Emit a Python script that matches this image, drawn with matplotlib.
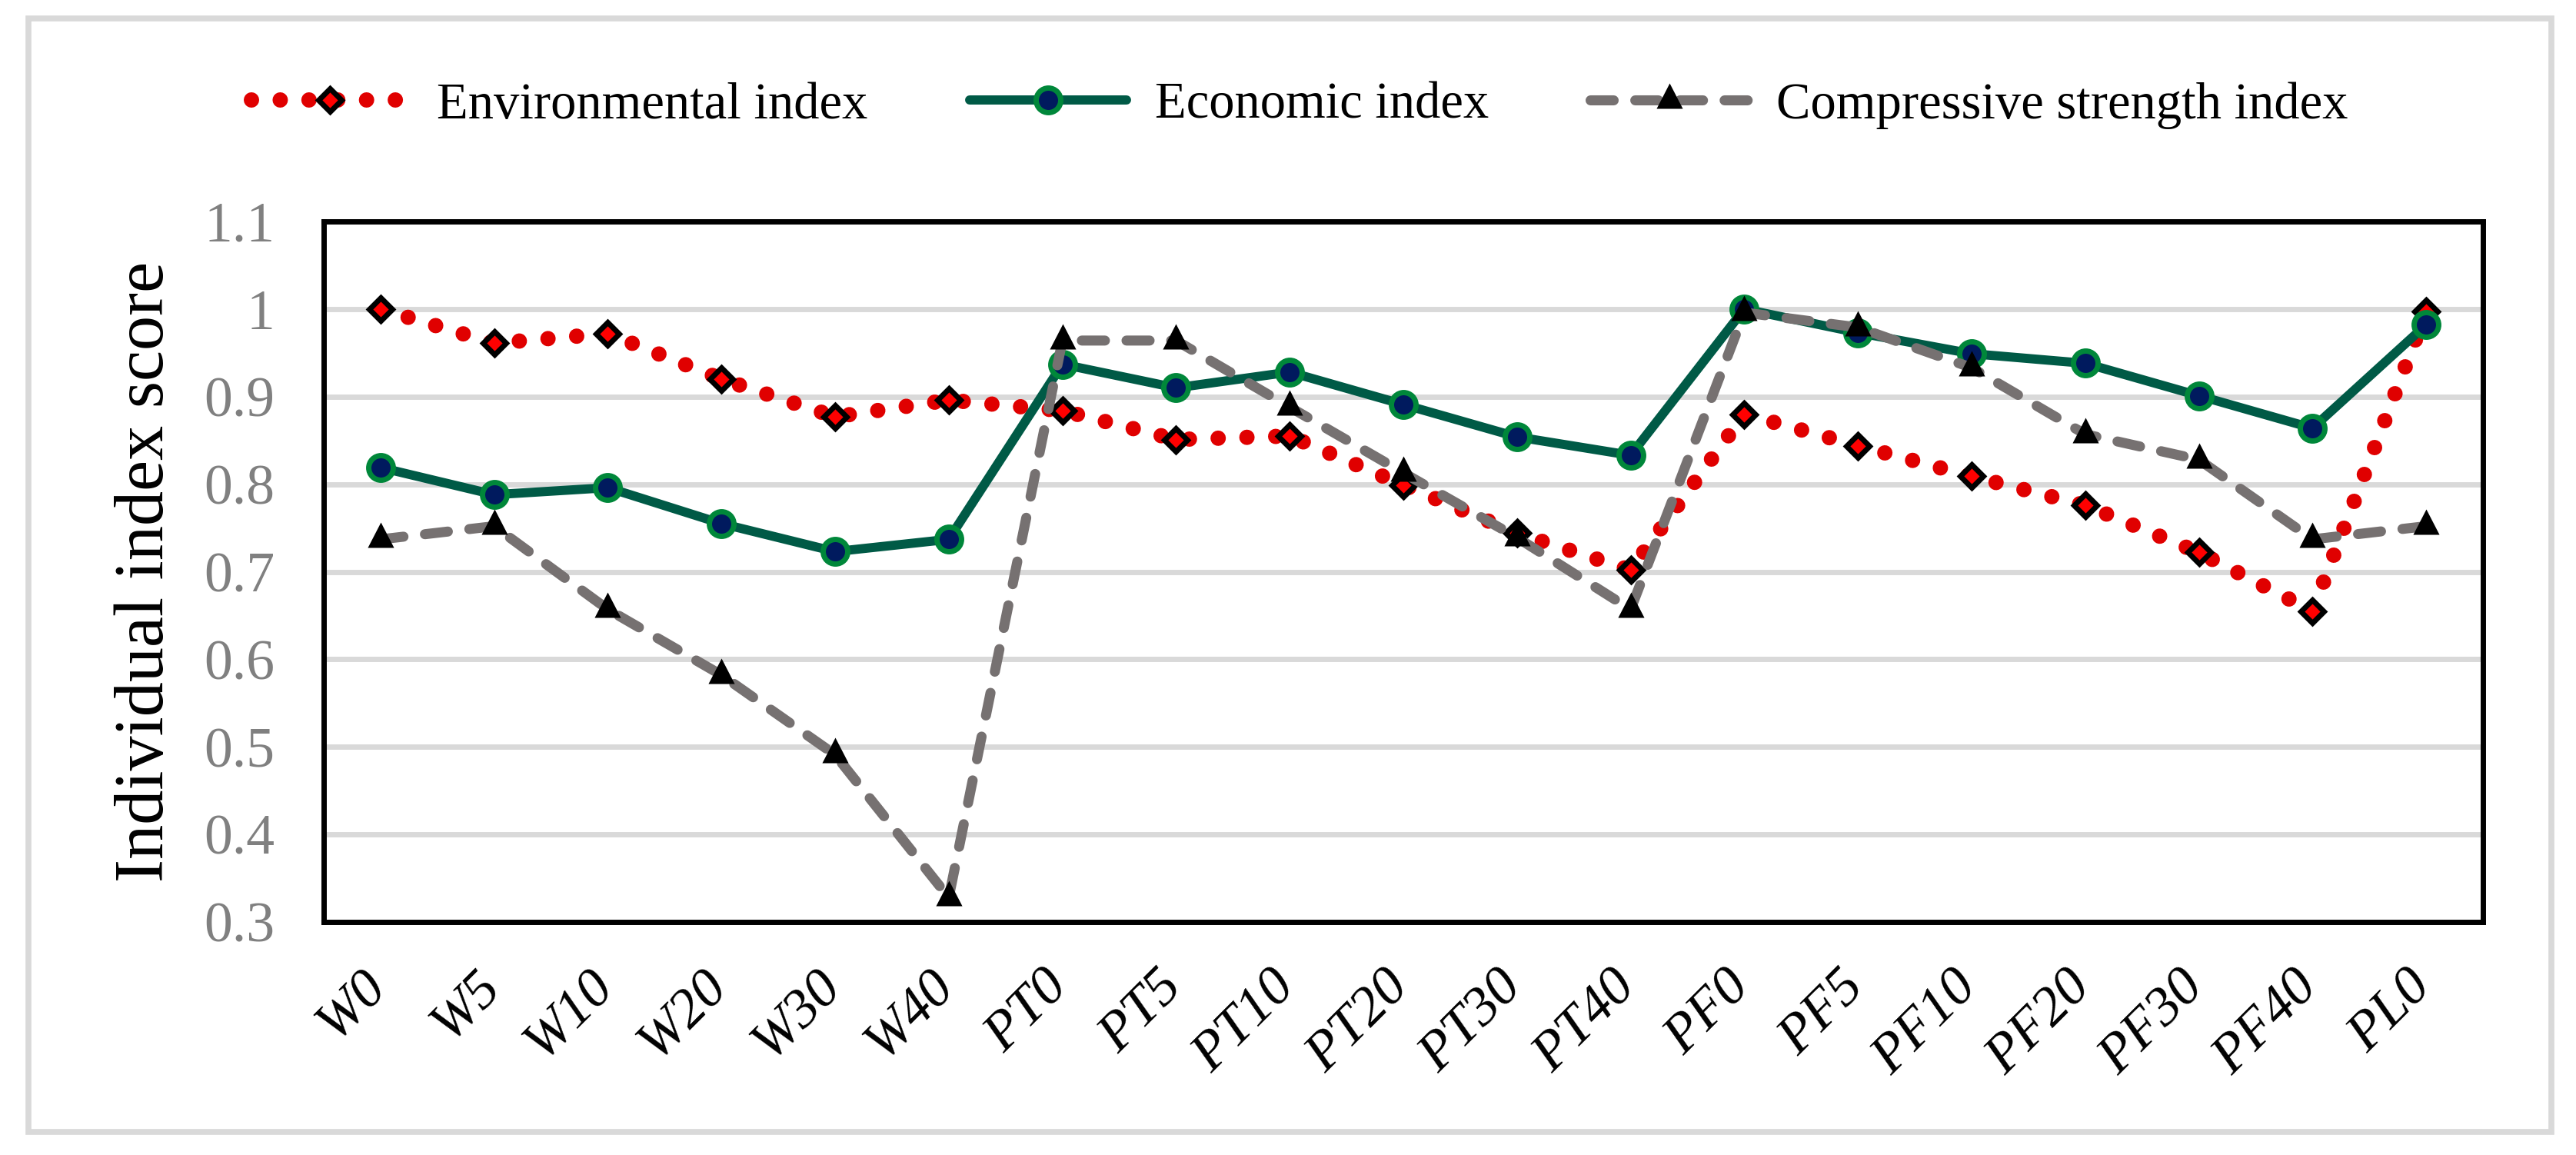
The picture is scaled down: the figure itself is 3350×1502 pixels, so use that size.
import numpy as np
import matplotlib
matplotlib.use("Agg")
import matplotlib.pyplot as plt
from matplotlib.patches import Rectangle
from matplotlib.transforms import ScaledTranslation

plt.rcParams['font.family'] = ['Liberation Serif', 'DejaVu Serif']

categories = ['W0', 'W5', 'W10', 'W20', 'W30', 'W40', 'PT0', 'PT5', 'PT10', 'PT20',
              'PT30', 'PT40', 'PF0', 'PF5', 'PF10', 'PF20', 'PF30', 'PF40', 'PL0']
environmental = [1.000, 0.961, 0.972, 0.920, 0.877, 0.896, 0.884, 0.851, 0.855, 0.799,
                 0.744, 0.702, 0.880, 0.844, 0.809, 0.776, 0.722, 0.655, 0.997]
economic = [0.819, 0.788, 0.796, 0.755, 0.723, 0.737, 0.937, 0.910, 0.928, 0.891,
            0.854, 0.833, 1.000, 0.973, 0.949, 0.938, 0.901, 0.864, 0.982]
compressive = [0.737, 0.752, 0.657, 0.582, 0.491, 0.328, 0.964, 0.964, 0.888, 0.813,
               0.739, 0.657, 0.996, 0.979, 0.933, 0.857, 0.828, 0.737, 0.752]
yticks = [0.3, 0.4, 0.5, 0.6, 0.7, 0.8, 0.9, 1.0, 1.1]
ytick_labels = ['0.3', '0.4', '0.5', '0.6', '0.7', '0.8', '0.9', '1', '1.1']
series_labels = ['Environmental index', 'Economic index', 'Compressive strength index']

W, H = 3350, 1502
fig = plt.figure(figsize=(W / 100, H / 100), dpi=100)
ax = fig.add_axes([421 / W, 1 - 1199 / H, (3229 - 421) / W, (1199 - 288) / H])

x = np.arange(len(categories))

# triangle marker centred on its centroid
tri = [(0, 2), (-1.55, -1), (1.55, -1), (0, 2)]

l1, = ax.plot(x, environmental, color='#E00000', lw=14.4, linestyle=(0, (0.001, 1.87)),
              dash_capstyle='round', marker='D', ms=15.5, mfc='#FF0000', mec='black',
              mew=5, zorder=3, label=series_labels[0])
l2, = ax.plot(x, economic, color='#005A46', lw=8.6, solid_capstyle='round',
              marker='o', ms=23, mfc='#001A5E', mec='#00873A', mew=5, zorder=4,
              label=series_labels[1])
l3, = ax.plot(x, compressive, color='#767171', lw=9.4, linestyle=(0, (2.3, 2.15)),
              dash_capstyle='round', marker=tri, ms=31.7, mfc='black', mec='black',
              mew=0, zorder=5, label=series_labels[2])

ax.set_xlim(-0.5, len(categories) - 0.5)
ax.set_ylim(0.3, 1.1)
ax.set_yticks(yticks, ytick_labels)
ax.set_xticks(x, categories)
ax.yaxis.grid(True, color='#D9D9D9', lw=5)
ax.set_axisbelow(True)
for s in ax.spines.values():
    s.set_linewidth(5)
    s.set_color('black')

ax.tick_params(axis='y', length=0, pad=46, labelsize=53, labelcolor='#808080')
ax.tick_params(axis='x', length=0, pad=37, labelsize=52)
offset = ScaledTranslation(0.2, 0, fig.dpi_scale_trans)
for lbl in ax.get_xticklabels():
    lbl.set_rotation(45)
    lbl.set_ha('right')
    lbl.set_va('top')
    lbl.set_fontstyle('italic')
    lbl.set_transform(lbl.get_transform() + offset)

fig.text(190 / W, 1 - 743 / H, 'Individual index score', rotation=90,
         ha='center', va='center', fontsize=65)

fig.legend(handles=[l1, l2, l3], labels=series_labels, loc='center left',
           bbox_to_anchor=(327 / W, 1 - 137 / H), ncol=3, frameon=False,
           fontsize=48, handlelength=3.07, handletextpad=0.55, columnspacing=1.98,
           borderpad=0, borderaxespad=0, numpoints=1)

fig.patches.append(Rectangle((37 / W, 1 - 1472 / H), (3318 - 37) / W, (1472 - 24) / H,
                             transform=fig.transFigure, fill=False, ec='#D9D9D9',
                             lw=5.5, zorder=0))

fig.savefig('out.png', dpi=100, facecolor='white')
